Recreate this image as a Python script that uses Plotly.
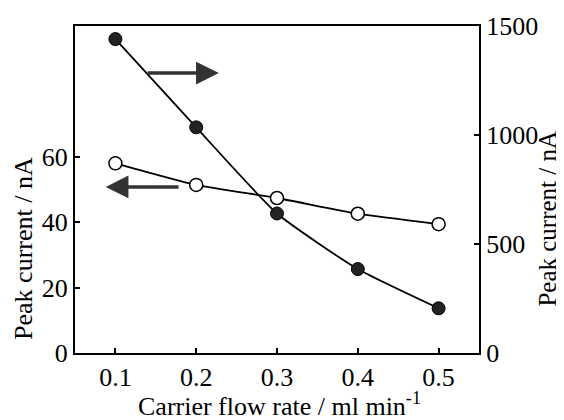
import plotly.graph_objects as go

flow_rate = [0.1, 0.2, 0.3, 0.4, 0.5]
open_current = [58, 51.4, 47.4, 42.6, 39.4]          # left axis, nA
filled_current = [1440, 1035, 640, 385, 205]          # right axis, nA

left_ticks = [0, 20, 40, 60]
right_ticks = [0, 500, 1000, 1500]
x_ticks = [0.1, 0.2, 0.3, 0.4, 0.5]

FONT = "Liberation Serif, Times New Roman, serif"

fig = go.Figure()
fig.add_trace(go.Scatter(
    x=flow_rate, y=filled_current, yaxis="y2", mode="lines+markers",
    line=dict(color="black", width=1.8, shape="spline", smoothing=0.5),
    marker=dict(size=13, color="#222", line=dict(color="black", width=1)),
    showlegend=False))
fig.add_trace(go.Scatter(
    x=flow_rate, y=open_current, yaxis="y", mode="lines+markers",
    line=dict(color="black", width=1.8, shape="spline", smoothing=0.5),
    marker=dict(size=13, color="white", line=dict(color="black", width=1.5)),
    showlegend=False))

fig.add_annotation(x=0.228, y=85.6, ax=0.138, ay=85.6, xref="x", yref="y",
                   axref="x", ayref="y", showarrow=True, arrowhead=2,
                   arrowsize=1.3, arrowwidth=3.5, arrowcolor="#333", text="")
fig.add_annotation(x=0.088, y=50.8, ax=0.18, ay=50.8, xref="x", yref="y",
                   axref="x", ayref="y", showarrow=True, arrowhead=2,
                   arrowsize=1.3, arrowwidth=3.5, arrowcolor="#333", text="")

# axis titles
fig.add_annotation(text="Peak current / nA", xref="paper", yref="paper",
                   x=-0.129, y=0.321, xanchor="center", yanchor="middle",
                   textangle=-90, showarrow=False, font=dict(size=26))
fig.add_annotation(text="Peak current / nA", xref="paper", yref="paper",
                   x=1.17, y=0.41, xanchor="center", yanchor="middle",
                   textangle=-90, showarrow=False, font=dict(size=25))
fig.add_annotation(text="Carrier flow rate / ml min<sup>-1</sup>", xref="paper", yref="paper",
                   x=0.507, y=-0.158, xanchor="center", yanchor="middle",
                   showarrow=False, font=dict(size=26))

common = dict(ticks="inside", ticklen=5, tickwidth=1.5, tickcolor="black",
              showline=True, linecolor="black", linewidth=2,
              showgrid=False, zeroline=False, automargin=False,
              tickfont=dict(size=26))

# page body has an 8px default margin, so the figure is 8px smaller and shifted
fig.update_layout(
    width=556, height=412,
    margin=dict(l=67, r=85, t=18, b=67),
    paper_bgcolor="white", plot_bgcolor="white",
    font=dict(family=FONT, size=21, color="black"),
    xaxis=dict(range=[0.05, 0.55], tickvals=x_ticks, ticktext=["0.1", "0.2", "0.3", "0.4", "0.5"],
               mirror=True, **common),
    yaxis=dict(range=[0, 100], tickvals=left_ticks, **common),
    yaxis2=dict(range=[0, 1500], tickvals=right_ticks, overlaying="y", side="right", **common),
)

fig.write_html("out.html")
